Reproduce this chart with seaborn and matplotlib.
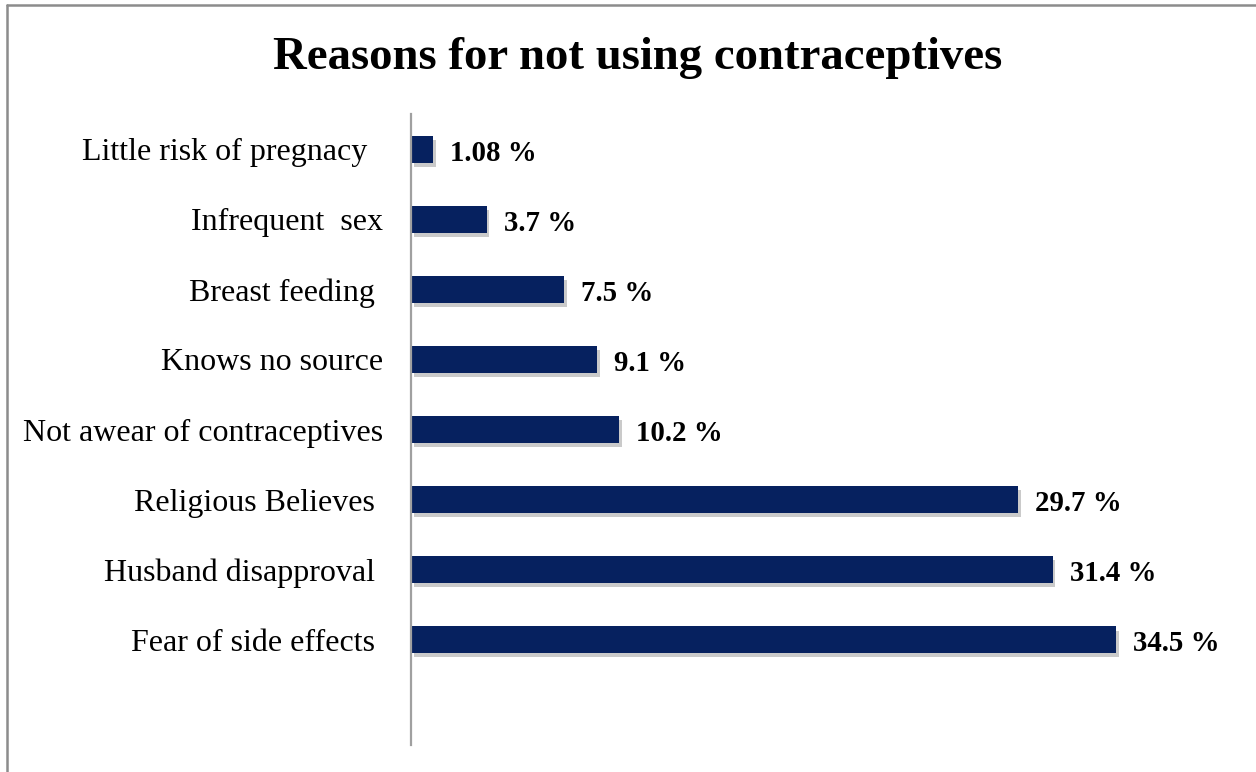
import matplotlib
matplotlib.use("Agg")
import matplotlib.pyplot as plt
import matplotlib.patheffects as pe
from matplotlib.lines import Line2D
import seaborn as sns
import pandas as pd

categories = [
    "Little risk of pregnacy  ",
    "Infrequent  sex",
    "Breast feeding ",
    "Knows no source",
    "Not awear of contraceptives",
    "Religious Believes ",
    "Husband disapproval ",
    "Fear of side effects ",
]
values = [1.08, 3.7, 7.5, 9.1, 10.2, 29.7, 31.4, 34.5]
value_labels = ["1.08 %", "3.7 %", "7.5 %", "9.1 %", "10.2 %", "29.7 %", "31.4 %", "34.5 %"]
title = "Reasons for not using contraceptives"

sns.set_theme(style="white")
plt.rcParams["font.family"] = ["Liberation Serif", "DejaVu Serif"]

df = pd.DataFrame({"reason": categories, "pct": values})

fig = plt.figure(figsize=(12.56, 7.72), dpi=100)
ax = fig.add_axes([411 / 1256, 27 / 772, (1240 - 411) / 1256, (745 - 114) / 772])

sns.barplot(data=df, y="reason", x="pct", orient="h", color="#06215f",
            saturation=1, width=0.385, ax=ax, order=categories, linewidth=0, edgecolor="none")

for p in ax.patches:
    p.set_path_effects([pe.SimplePatchShadow(offset=(2, -3), shadow_rgbFace="#8a8a8a", alpha=0.45),
                        pe.Normal()])

for i, (v, lab) in enumerate(zip(values, value_labels)):
    ax.annotate(lab, xy=(v, i), xytext=(17, -4), textcoords="offset pixels",
                ha="left", va="center", fontsize=20.8, fontweight="bold", color="black")

ax.set_xlim(0, (1240 - 411) / 20.43)
ax.set_ylim(7.5 + 1.0, -0.5)
ax.set_xlabel("")
ax.set_ylabel("")
ax.set_xticks([])
ax.tick_params(axis="y", length=0, pad=20, labelsize=23)
for lbl in ax.get_yticklabels():
    lbl.set_color("black")
for s in ["top", "right", "bottom"]:
    ax.spines[s].set_visible(False)
ax.spines["left"].set_color("#a0a0a0")
ax.spines["left"].set_linewidth(1.6)

fig.text(638 / 1256, 1 - 58 / 772, title, ha="center", va="center",
         fontsize=33.7, fontweight="bold", color="black")

# outer border (left and top only visible)
fig.add_artist(Line2D([7 / 1256, 7 / 1256], [0, 1 - 5 / 772], transform=fig.transFigure,
                      color="#8c8c8c", lw=1.8))
fig.add_artist(Line2D([7 / 1256, 1], [1 - 5 / 772, 1 - 5 / 772], transform=fig.transFigure,
                      color="#8c8c8c", lw=1.8))

fig.savefig("out.png", dpi=100, facecolor="white")
